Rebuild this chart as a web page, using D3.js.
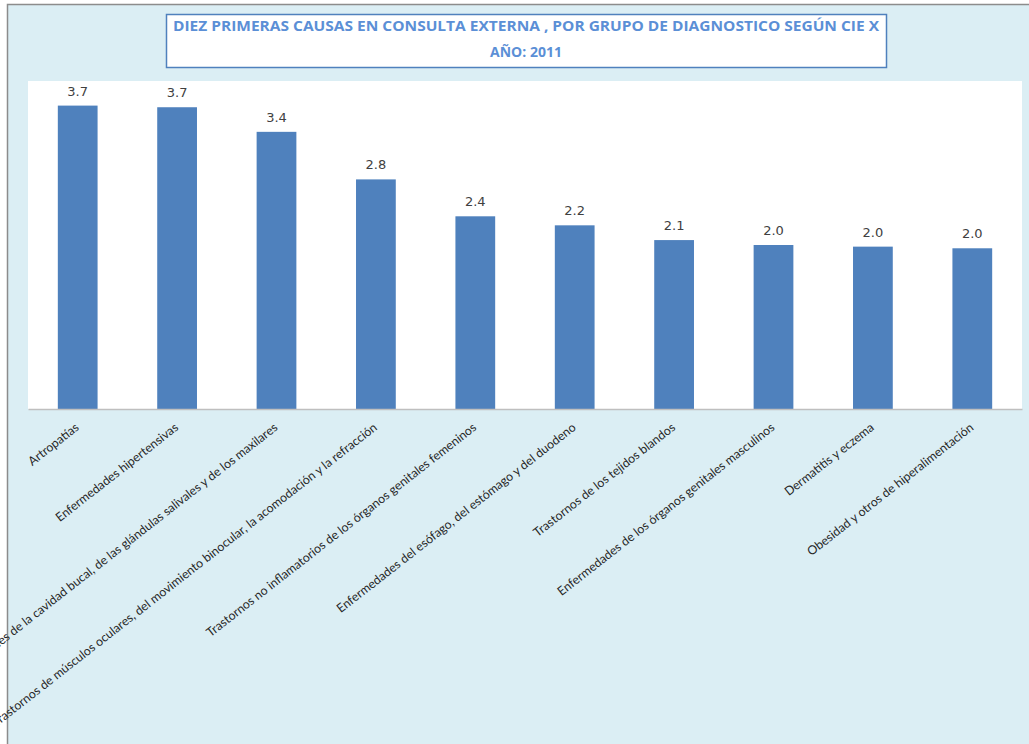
<!DOCTYPE html>
<html lang='es'>
<head>
  <meta charset='UTF-8'>
  <title>Diez primeras causas</title>
  <style>
  body { margin: 0; background: #fff; }
  svg { display: block; }
  .title { font-family: 'Open Sans', sans-serif; font-weight: bold; font-size: 14px; fill: #5b8fd6; }
  .val { font-family: 'DejaVu Sans', sans-serif; font-size: 13px; fill: #404040; }
  .cat { font-family: 'Lato', sans-serif; font-size: 12.3px; fill: #262626; }
  </style>
  <script src='https://d3js.org/d3.v7.min.js'></script>
</head>
<body>
  <script>

  var categories = [
    'Artropatías',
    'Enfermedades hipertensivas',
    'Enfermedades de la cavidad bucal, de las glándulas salivales y de los maxilares',
    'Trastornos de músculos oculares, del movimiento binocular, la acomodación y la refracción',
    'Trastornos no inflamatorios de los órganos genitales femeninos',
    'Enfermedades del esófago, del estómago y del duodeno',
    'Trastornos de los tejidos blandos',
    'Enfermedades de los órganos genitales masculinos',
    'Dermatitis y eczema',
    'Obesidad y otros de hiperalimentación'
  ];
  var values = [3.70, 3.68, 3.38, 2.80, 2.35, 2.24, 2.06, 2.00, 1.98, 1.96];
  var titleLines = ['DIEZ PRIMERAS CAUSAS EN CONSULTA EXTERNA , POR GRUPO DE DIAGNOSTICO SEGÚN CIE X', 'AÑO: 2011'];

  var svgWidth = 1029, svgHeight = 744;
  var plot = { left: 28, right: 1022, top: 81, bottom: 409 };

  var svg = d3.select('body').append('svg')
    .attr('width', svgWidth)
    .attr('height', svgHeight);

  // chart area background
  svg.append('rect')
    .attr('x', 7.5).attr('y', 4.5)
    .attr('width', svgWidth).attr('height', svgHeight)
    .attr('fill', '#dbeef4')
    .attr('stroke', '#8c8c8c')
    .attr('stroke-width', 1.5);

  // plot area
  svg.append('rect')
    .attr('x', plot.left).attr('y', plot.top)
    .attr('width', plot.right - plot.left).attr('height', plot.bottom - plot.top)
    .attr('fill', '#fff');

  var x = d3.scaleBand()
    .domain(categories)
    .range([plot.left, plot.right])
    .paddingInner(0.6)
    .paddingOuter(0.3);

  var y = d3.scaleLinear().domain([0, 4]).range([plot.bottom, plot.top]);

  // bars
  svg.selectAll('.bar')
    .data(values)
    .enter()
    .append('rect')
    .attr('class', 'bar')
    .attr('x', function (d, i) { return x(categories[i]); })
    .attr('y', function (d) { return y(d); })
    .attr('width', x.bandwidth())
    .attr('height', function (d) { return y(0) - y(d); })
    .attr('fill', '#4f81bd');

  // value labels
  svg.selectAll('.val')
    .data(values)
    .enter()
    .append('text')
    .attr('class', 'val')
    .attr('text-anchor', 'middle')
    .attr('x', function (d, i) { return x(categories[i]) + x.bandwidth() / 2; })
    .attr('y', function (d) { return y(d) - 10; })
    .text(d3.format('.1f'));

  // x axis
  var axis = svg.append('g')
    .attr('transform', 'translate(0,' + plot.bottom + ')')
    .call(d3.axisBottom(x).tickSize(0).tickPadding(0));

  axis.select('.domain').attr('stroke', '#bfbfbf').attr('stroke-width', 1.5);

  axis.selectAll('text')
    .attr('class', 'cat')
    .attr('fill', null)
    .attr('text-anchor', 'end')
    .attr('dy', null)
    .attr('y', 0)
    .attr('transform', 'translate(2,20) rotate(-38)');

  // title box
  svg.append('rect')
    .attr('x', 166.5).attr('y', 14.5)
    .attr('width', 720).attr('height', 53)
    .attr('fill', '#fff')
    .attr('stroke', '#4f81bd')
    .attr('stroke-width', 1.5);

  svg.selectAll('.title')
    .data(titleLines)
    .enter()
    .append('text')
    .attr('class', 'title')
    .attr('text-anchor', 'middle')
    .attr('x', 526)
    .attr('y', function (d, i) { return 31 + i * 26; })
    .attr('textLength', function (d, i) { return i === 0 ? 706 : null; })
    .attr('lengthAdjust', 'spacingAndGlyphs')
    .text(function (d) { return d; });
  </script>
</body>
</html>
